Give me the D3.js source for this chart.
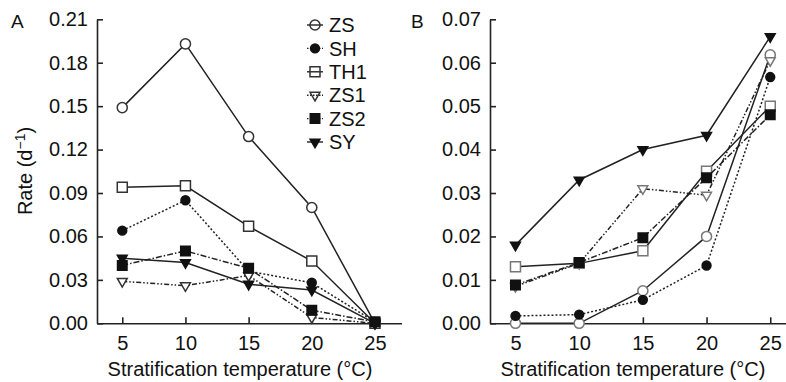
<!DOCTYPE html>
<html lang="en">

<head>
  <meta charset="utf-8">
  <title>Rate vs stratification temperature</title>
  <script src="https://d3js.org/d3.v7.min.js" charset="utf-8"></script>
  <style type="text/css">
    body {
      margin: 0;
      background: #fff;
    }

    text {
      font-family: "Liberation Sans", Arial, sans-serif;
      fill: #111;
    }

    .axis path,
    .axis line {
      stroke: #222;
      stroke-width: 1.6px;
    }
  </style>
</head>

<body>
  <script type="text/javascript">
    var temps = [5, 10, 15, 20, 25];
    var seriesNames = ["ZS", "SH", "TH1", "ZS1", "ZS2", "SY"];

    // panel A
    var rateA_ZS = [0.149, 0.193, 0.129, 0.080, 0.000];
    var rateA_SH = [0.064, 0.085, 0.036, 0.028, 0.001];
    var rateA_TH1 = [0.094, 0.095, 0.067, 0.043, 0.000];
    var rateA_ZS1 = [0.029, 0.026, 0.033, 0.004, 0.000];
    var rateA_ZS2 = [0.040, 0.050, 0.038, 0.009, 0.001];
    var rateA_SY = [0.045, 0.042, 0.027, 0.023, 0.000];

    // panel B
    var rateB_ZS = [0.000, 0.000, 0.0075, 0.020, 0.0618];
    var rateB_SH = [0.0017, 0.002, 0.0054, 0.0133, 0.0567];
    var rateB_TH1 = [0.013, 0.0138, 0.0167, 0.035, 0.050];
    var rateB_ZS1 = [0.0085, 0.0138, 0.031, 0.0295, 0.0605];
    var rateB_ZS2 = [0.0088, 0.014, 0.0197, 0.0335, 0.048];
    var rateB_SY = [0.018, 0.033, 0.040, 0.0433, 0.066];

    var ticksA = [0, 0.03, 0.06, 0.09, 0.12, 0.15, 0.18, 0.21];
    var ticksB = [0, 0.01, 0.02, 0.03, 0.04, 0.05, 0.06, 0.07];

    var width = 786,
      height = 382,
      fontSize = 20;

    // marker + line style per series
    var styles = {
      ZS: { shape: d3.symbolCircle, size: 80, fill: false, dash: null },
      SH: { shape: d3.symbolCircle, size: 62, fill: true, dash: "2,2" },
      TH1: { shape: d3.symbolSquare, size: 100, fill: false, dash: null },
      ZS1: { shape: d3.symbolTriangle, size: 42, fill: false, dash: "5,2,1.5,2,1.5,2", down: true },
      ZS2: { shape: d3.symbolSquare, size: 90, fill: true, dash: "6,2,1.5,2" },
      SY: { shape: d3.symbolTriangle, size: 42, fill: true, dash: null, down: true }
    };

    var svg = d3.select("body")
      .append("svg")
      .attr("width", width)
      .attr("height", height);

    function drawMarker(sel, name, hollowColor, hollowFill) {
      var s = styles[name];
      sel.attr("d", d3.symbol().type(s.shape).size(s.size))
        .attr("fill", s.fill ? "#111" : hollowFill)
        .attr("stroke", s.fill ? "#111" : hollowColor)
        .attr("stroke-width", 1.5);
    }

    function drawPanel(opts) {
      var x = d3.scaleLinear().domain([3, 27.1]).range(opts.xRange);
      var y = d3.scaleLinear().domain([0, opts.yMax]).range([323.3, 19.3]);

      var g = svg.append("g");

      g.append("g")
        .attr("class", "axis")
        .attr("transform", "translate(0," + y(0) + ")")
        .call(d3.axisBottom(x).tickValues(temps).tickSize(-6).tickSizeOuter(0).tickPadding(13))
        .call(function (a) {
          a.selectAll("text").attr("font-size", fontSize + "px").attr("fill", "#111");
        });

      g.append("g")
        .attr("class", "axis")
        .attr("transform", "translate(" + x(3) + ",0)")
        .call(d3.axisLeft(y).tickValues(opts.ticks).tickFormat(d3.format(".2f"))
          .tickSize(-6).tickSizeOuter(0).tickPadding(9))
        .call(function (a) {
          a.selectAll("text").attr("font-size", fontSize + "px").attr("fill", "#111");
        });

      var line = d3.line()
        .x(function (d, i) { return x(temps[i]); })
        .y(function (d) { return y(d); });

      seriesNames.forEach(function (name) {
        var vals = opts.series[name];
        var s = styles[name];
        g.append("path")
          .datum(vals)
          .attr("d", line)
          .attr("fill", "none")
          .attr("stroke", "#222")
          .attr("stroke-width", 1.5)
          .attr("stroke-dasharray", s.dash);

        g.selectAll(".m-" + name)
          .data(vals)
          .enter()
          .append("path")
          .attr("class", "m-" + name)
          .attr("transform", function (d, i) {
            return "translate(" + x(temps[i]) + "," + y(d) + ")" + (s.down ? " rotate(180)" : "");
          })
          .call(drawMarker, name, opts.hollow, "#fff");
      });

      // panel letter
      svg.append("text")
        .attr("x", opts.letterX)
        .attr("y", 28)
        .attr("font-size", "19px")
        .text(opts.letter);

      // x axis title
      svg.append("text")
        .attr("x", opts.titleX)
        .attr("y", 376)
        .attr("text-anchor", "middle")
        .attr("font-size", fontSize + "px")
        .text("Stratification temperature (\u00B0C)");
    }

    drawPanel({
      xRange: [97, 401.5],
      yMax: 0.21,
      ticks: ticksA,
      hollow: "#333",
      letter: "A",
      letterX: 11,
      titleX: 240,
      series: { ZS: rateA_ZS, SH: rateA_SH, TH1: rateA_TH1, ZS1: rateA_ZS1, ZS2: rateA_ZS2, SY: rateA_SY }
    });

    drawPanel({
      xRange: [490, 797],
      yMax: 0.07,
      ticks: ticksB,
      hollow: "#777",
      letter: "B",
      letterX: 411,
      titleX: 633,
      series: { ZS: rateB_ZS, SH: rateB_SH, TH1: rateB_TH1, ZS1: rateB_ZS1, ZS2: rateB_ZS2, SY: rateB_SY }
    });

    // y axis title
    var yTitle = svg.append("text")
      .attr("transform", "translate(32,171) rotate(-90)")
      .attr("text-anchor", "middle")
      .attr("font-size", fontSize + "px");
    yTitle.append("tspan").text("Rate (d");
    yTitle.append("tspan").attr("dy", -7).attr("font-size", "14px").text("\u22121");
    yTitle.append("tspan").attr("dy", 7).text(")");

    // legend
    var legend = svg.append("g").attr("transform", "translate(315,25)");
    seriesNames.forEach(function (name, i) {
      var s = styles[name];
      var row = legend.append("g").attr("transform", "translate(0," + (i * 23.4) + ")");
      row.append("line")
        .attr("x1", -8).attr("x2", 8)
        .attr("stroke", "#222")
        .attr("stroke-width", 1.4)
        .attr("stroke-dasharray", s.dash ? "1.5,1.5" : null);
      row.append("path")
        .attr("transform", s.down ? "rotate(180)" : null)
        .call(drawMarker, name, "#333", "none");
      row.append("text")
        .attr("x", 14)
        .attr("dy", "0.36em")
        .attr("font-size", fontSize + "px")
        .text(name);
    });
  </script>
</body>

</html>
